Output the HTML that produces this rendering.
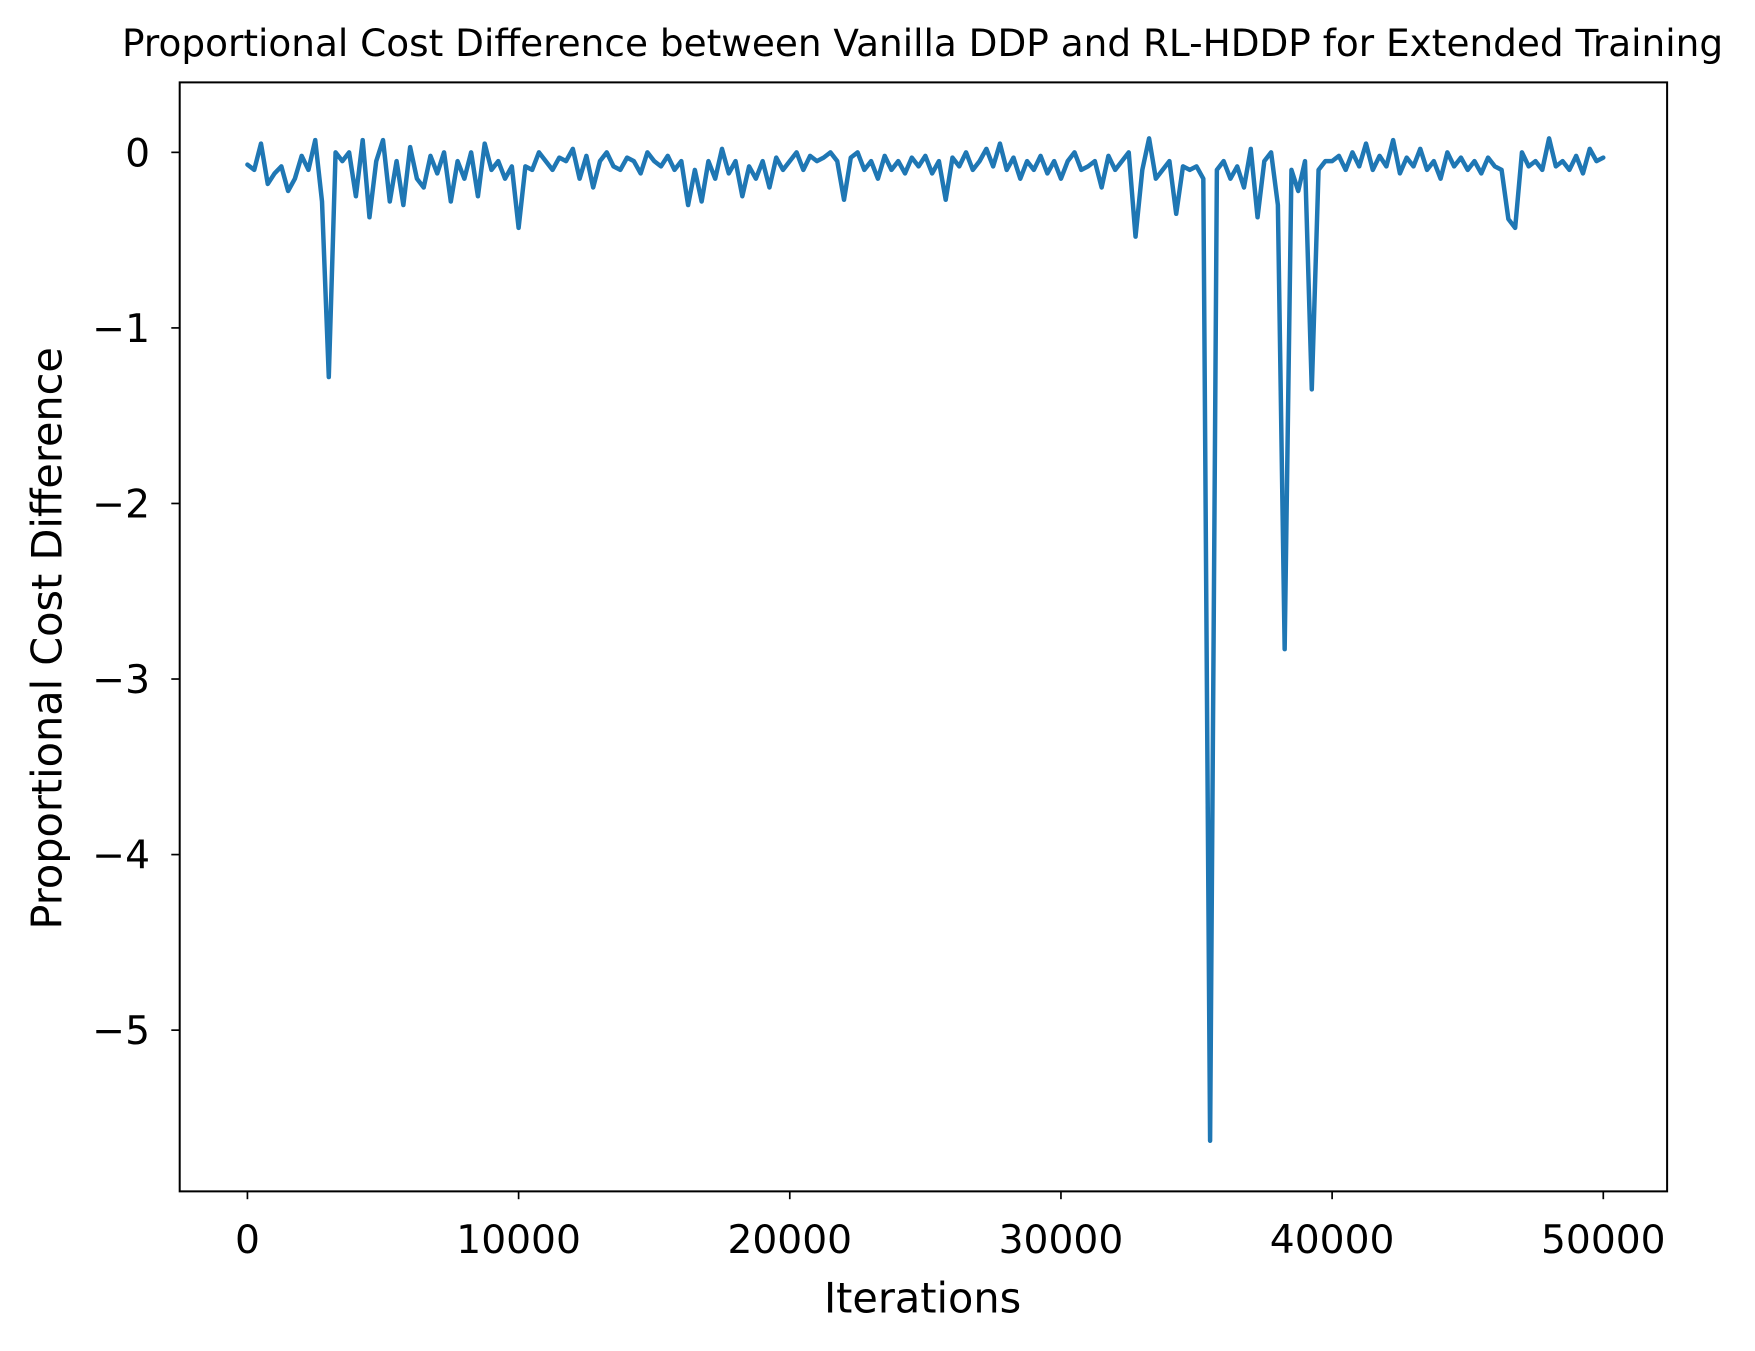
<!DOCTYPE html>
<html><head><meta charset="utf-8"><style>
html,body{margin:0;padding:0;background:#fff}
svg{display:block}
text{font-family:"DejaVu Sans","Liberation Sans",sans-serif;fill:#000}
</style></head><body>
<svg id="chart" width="1755" height="1351" viewBox="0 0 1567.5 1206.5" xmlns="http://www.w3.org/2000/svg">
<rect width="1567.5" height="1206.5" fill="#fff"/>
<text x="824" y="50" font-size="33.5" text-anchor="middle" textLength="1430" lengthAdjust="spacingAndGlyphs">Proportional Cost Difference between Vanilla DDP and RL-HDDP for Extended Training</text>
<g id="xticks"></g>
<g id="yticks"></g>
<path id="series" fill="none" stroke="#1f77b4" stroke-width="4" stroke-linejoin="round" stroke-linecap="round"/>
<rect x="160.5" y="73.5" width="1328.5" height="990.5" fill="none" stroke="#000" stroke-width="1.8"/>
<text x="824" y="1172" font-size="37" text-anchor="middle">Iterations</text>
<text transform="translate(55,570) rotate(-90)" font-size="37" text-anchor="middle">Proportional Cost Difference</text>
</svg>
<script>
const xTicks = [0, 10000, 20000, 30000, 40000, 50000];
const yTicks = [0, -1, -2, -3, -4, -5];
const xStep = 250;
const values = [
-0.07,-0.1,0.05,-0.18,-0.12,-0.08,-0.22,-0.15,-0.02,-0.1,
0.07,-0.28,-1.28,0.0,-0.05,0.0,-0.25,0.07,-0.37,-0.05,
0.07,-0.28,-0.05,-0.3,0.03,-0.15,-0.2,-0.02,-0.12,0.0,
-0.28,-0.05,-0.15,0.0,-0.25,0.05,-0.1,-0.05,-0.15,-0.08,
-0.43,-0.08,-0.1,0.0,-0.05,-0.1,-0.03,-0.05,0.02,-0.15,
-0.02,-0.2,-0.05,0.0,-0.08,-0.1,-0.03,-0.05,-0.12,0.0,
-0.05,-0.08,-0.02,-0.1,-0.05,-0.3,-0.1,-0.28,-0.05,-0.15,
0.02,-0.12,-0.05,-0.25,-0.08,-0.15,-0.05,-0.2,-0.03,-0.1,
-0.05,0.0,-0.1,-0.02,-0.05,-0.03,0.0,-0.05,-0.27,-0.03,
0.0,-0.1,-0.05,-0.15,-0.02,-0.1,-0.05,-0.12,-0.03,-0.08,
-0.02,-0.12,-0.05,-0.27,-0.03,-0.08,0.0,-0.1,-0.05,0.02,
-0.08,0.05,-0.1,-0.03,-0.15,-0.05,-0.1,-0.02,-0.12,-0.05,
-0.15,-0.05,0.0,-0.1,-0.08,-0.05,-0.2,-0.02,-0.1,-0.05,
0.0,-0.48,-0.1,0.08,-0.15,-0.1,-0.05,-0.35,-0.08,-0.1,
-0.08,-0.15,-5.63,-0.1,-0.05,-0.15,-0.08,-0.2,0.02,-0.37,
-0.05,0.0,-0.3,-2.83,-0.1,-0.22,-0.05,-1.35,-0.1,-0.05,
-0.05,-0.02,-0.1,0.0,-0.08,0.05,-0.1,-0.02,-0.08,0.07,
-0.12,-0.03,-0.08,0.02,-0.1,-0.05,-0.15,0.0,-0.08,-0.03,
-0.1,-0.05,-0.12,-0.03,-0.08,-0.1,-0.38,-0.43,0.0,-0.08,
-0.05,-0.1,0.08,-0.08,-0.05,-0.1,-0.02,-0.12,0.02,-0.05,
-0.03
];
const NS='http://www.w3.org/2000/svg';
const xs = v => 221 + v/50000*1211;
const ys = v => 136 - v*156.8;
const xg=document.getElementById('xticks'), yg=document.getElementById('yticks');
xTicks.forEach(t=>{
  const l=document.createElementNS(NS,'line');
  
  
  l.setAttribute('x1',xs(t));l.setAttribute('x2',xs(t));l.setAttribute('y1',1064);l.setAttribute('y2',1071);
  l.setAttribute('stroke','#000');l.setAttribute('stroke-width','1.5');xg.appendChild(l);
  const s=document.createElementNS(NS,'text');
  
  
  s.setAttribute('x',xs(t));s.setAttribute('y',1119);s.setAttribute('font-size','35');s.setAttribute('text-anchor','middle');
  s.textContent=String(t);xg.appendChild(s);
});
yTicks.forEach(t=>{
  const l=document.createElementNS(NS,'line');
  
  
  l.setAttribute('x1',153);l.setAttribute('x2',160);l.setAttribute('y1',ys(t));l.setAttribute('y2',ys(t));
  l.setAttribute('stroke','#000');l.setAttribute('stroke-width','1.5');yg.appendChild(l);
  const s=document.createElementNS(NS,'text');
  
  
  s.setAttribute('x',134);s.setAttribute('y',ys(t)+12.5);s.setAttribute('font-size','35');s.setAttribute('text-anchor','end');
  s.textContent=t<0?'\u2212'+Math.abs(t):String(t);yg.appendChild(s);
});
document.getElementById('series').setAttribute('d',
  values.map((v,i)=>(i?'L':'M')+xs(i*xStep).toFixed(2)+' '+ys(v).toFixed(2)).join(' '));
</script>
</body></html>
